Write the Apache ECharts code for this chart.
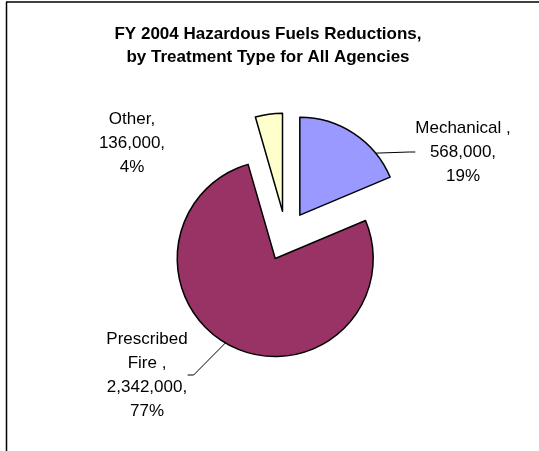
<!DOCTYPE html>
<html>
<head>
<meta charset="utf-8">
<script src="https://cdn.jsdelivr.net/npm/echarts@6/dist/echarts.min.js"></script>
<style>
html,body{margin:0;padding:0;background:#fff;}
#chart{width:539px;height:451px;}
</style>
</head>
<body>
<div id="chart"></div>
<script>
var categories = ['Mechanical', 'Prescribed Fire', 'Other'];
var labelNames = ['Mechanical ,', 'Prescribed\nFire ,', 'Other,'];
var values = [568000, 2342000, 136000];
var percents = ['19%', '77%', '4%'];
var colors = ['#9999FF', '#993366', '#FFFFCC'];
var titleText = 'FY 2004 Hazardous Fuels Reductions,\nby Treatment Type for All Agencies';

// label anchor positions (layout only)
var labelPos = [
  {x: 463, y: 152},
  {x: 147, y: 375},
  {x: 132, y: 143}
];

var FONT = 'Liberation Sans, Arial, sans-serif';
function fmt(n) { return n.toString().replace(/\B(?=(\d{3})+(?!\d))/g, ','); }

var chart = echarts.init(document.getElementById('chart'), null, {renderer: 'canvas'});

// exploded slices
var sliceData = categories.map(function (c, i) {
  return {name: c, value: values[i], selected: true, itemStyle: {color: colors[i]}};
});
// label carrier (unexploded, invisible sectors, drawn below the slices)
var labelData = categories.map(function (c, i) {
  return {name: c, value: values[i], labelLine: {show: i !== 2}};
});

chart.setOption({
  animation: false,
  backgroundColor: '#fff',
  title: {
    text: titleText,
    left: 263,
    top: 18,
    textAlign: 'center',
    textStyle: {
      fontFamily: FONT,
      fontSize: 17,
      fontWeight: 'bold',
      color: '#000',
      lineHeight: 23
    }
  },
  graphic: [
    {type: 'line', shape: {x1: 6, y1: 2, x2: 539, y2: 2}, style: {stroke: '#404040', lineWidth: 2}},
    {type: 'line', shape: {x1: 6.5, y1: 2, x2: 6.5, y2: 451}, style: {stroke: '#000', lineWidth: 1.5}}
  ],
  series: [{
    type: 'pie',
    z: 1,
    center: [286, 236],
    radius: [0, 98],
    startAngle: 90,
    clockwise: true,
    silent: true,
    avoidLabelOverlap: false,
    itemStyle: {color: 'rgba(0,0,0,0)', borderWidth: 0},
    label: {
      show: true,
      position: 'outside',
      fontFamily: FONT,
      fontSize: 17,
      lineHeight: 24,
      color: '#000',
      align: 'center',
      formatter: function (p) {
        return labelNames[p.dataIndex] + '\n' + fmt(p.value) + ',\n' + percents[p.dataIndex];
      }
    },
    labelLine: {
      show: true,
      lineStyle: {color: '#000', width: 1},
      length: 10,
      length2: 6
    },
    labelLayout: function (p) {
      var pos = labelPos[p.dataIndex];
      return {x: pos.x, y: pos.y, align: 'center', verticalAlign: 'middle'};
    },
    data: labelData
  }, {
    type: 'pie',
    z: 2,
    center: [286, 236],
    radius: [0, 98],
    startAngle: 90,
    clockwise: true,
    selectedMode: 'multiple',
    selectedOffset: 25,
    silent: true,
    itemStyle: {borderColor: '#000', borderWidth: 1.5},
    label: {show: false},
    labelLine: {show: false},
    data: sliceData
  }]
});
</script>
</body>
</html>
